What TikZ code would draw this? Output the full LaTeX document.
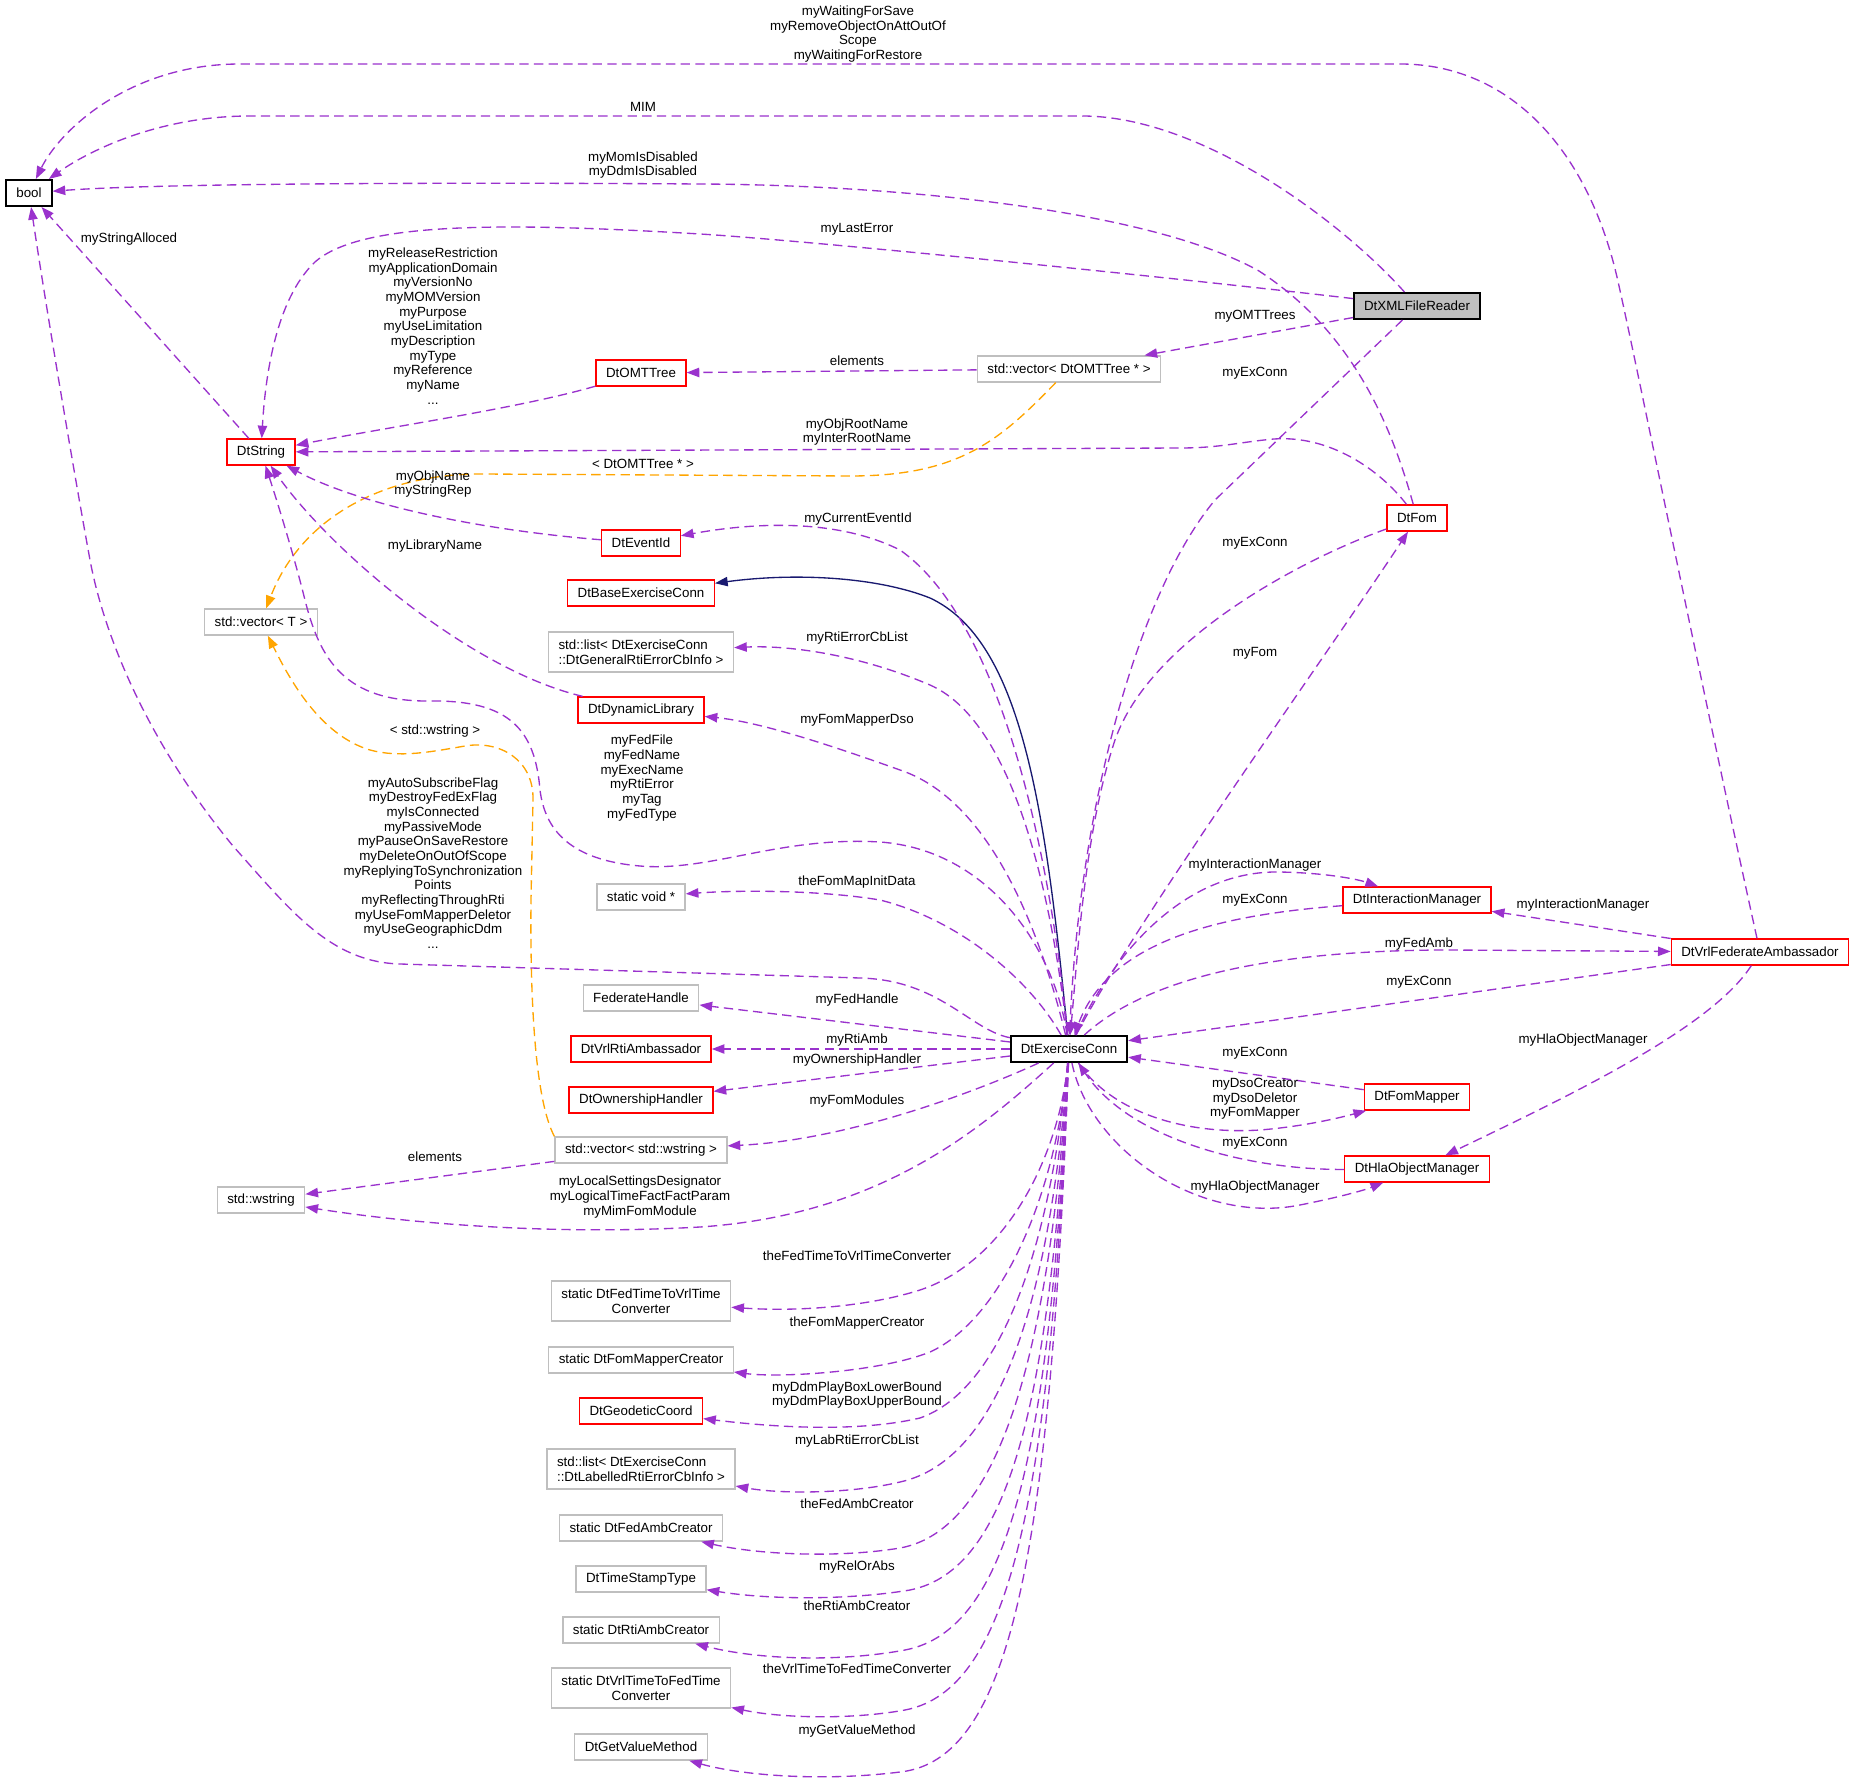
\documentclass[tikz,border=0pt]{standalone}
\usepackage{fontspec}
\setmainfont{Liberation Sans}
\usetikzlibrary{arrows.meta}
\definecolor{edgepurple}{HTML}{9A32CD}
\definecolor{tmplorange}{HTML}{FFA500}
\definecolor{inhnavy}{HTML}{191970}
\definecolor{boxgrey}{HTML}{BFBFBF}
\definecolor{boxred}{HTML}{FF0000}
\begin{document}
\begin{tikzpicture}[x=0.75pt,y=-0.75pt]
		\tikzstyle{cls}=[rectangle,draw,line width=1pt,minimum height=19.5pt,inner xsep=7.5pt,inner ysep=3pt,font=\fontsize{10}{11}\selectfont,align=center]
		\tikzstyle{redcls}=[cls,draw=boxred]
		\tikzstyle{greycls}=[cls,draw=boxgrey]
		\tikzstyle{blkcls}=[cls,draw=black,line width=1.5pt]
		\tikzstyle{lbl}=[font=\fontsize{10}{11}\selectfont,align=center,inner sep=0pt]
		\tikzstyle{member}=[draw=edgepurple,line width=1pt,dash pattern=on 7pt off 4pt,-{Triangle[length=9.5pt,width=7pt]}]
		\tikzstyle{tmplarg}=[member,draw=tmplorange]
		\tikzstyle{inherit}=[draw=inhnavy,line width=1pt,-{Triangle[length=9.5pt,width=7pt]}]
		\path[fill=white,use as bounding box] (0,0) rectangle (1853,1787);
		\node[blkcls] (n_bool) at (29,193) {bool};
		\node[redcls] (n_dtstring) at (261,452) {DtString};
		\node[redcls] (n_omttree) at (641,373) {DtOMTTree};
		\node[redcls] (n_eventid) at (641,543) {DtEventId};
		\node[blkcls,fill=boxgrey] (n_xmlreader) at (1417,306) {DtXMLFileReader};
		\node[greycls] (n_vecomt) at (1069,369) {std::vector< DtOMTTree * >};
		\node[redcls] (n_fom) at (1417,518) {DtFom};
		\node[redcls] (n_baseconn) at (641,593) {DtBaseExerciseConn};
		\node[greycls] (n_vect) at (261,622) {std::vector< T >};
		\node[greycls,align=left,minimum height=30pt] (n_listgen) at (641,652) {std::list< DtExerciseConn\\::DtGeneralRtiErrorCbInfo >};
		\node[redcls] (n_dynlib) at (641,710) {DtDynamicLibrary};
		\node[greycls] (n_staticvoid) at (641,897) {static void *};
		\node[greycls] (n_fedhandle) at (641,998) {FederateHandle};
		\node[redcls] (n_rtiamb) at (641,1049) {DtVrlRtiAmbassador};
		\node[redcls] (n_ownhandler) at (641,1100) {DtOwnershipHandler};
		\node[greycls] (n_vecwstr) at (641,1150) {std::vector< std::wstring >};
		\node[greycls] (n_wstring) at (261,1200) {std::wstring};
		\node[blkcls] (n_exconn) at (1069,1049) {DtExerciseConn};
		\node[redcls] (n_intmgr) at (1417,900) {DtInteractionManager};
		\node[redcls] (n_fedamb) at (1760,952) {DtVrlFederateAmbassador};
		\node[redcls] (n_fommapper) at (1417,1097) {DtFomMapper};
		\node[redcls] (n_hlaobj) at (1417,1169) {DtHlaObjectManager};
		\node[greycls,minimum height=30pt] (n_fedtime) at (641,1301) {static DtFedTimeToVrlTime\\Converter};
		\node[greycls] (n_mapcreator) at (641,1360) {static DtFomMapperCreator};
		\node[redcls] (n_geocoord) at (641,1411) {DtGeodeticCoord};
		\node[greycls,align=left,minimum height=30pt] (n_listlab) at (641,1469) {std::list< DtExerciseConn\\::DtLabelledRtiErrorCbInfo >};
		\node[greycls] (n_ambcreator) at (641,1528) {static DtFedAmbCreator};
		\node[greycls] (n_timestamp) at (641,1579) {DtTimeStampType};
		\node[greycls] (n_rticreator) at (641,1630) {static DtRtiAmbCreator};
		\node[greycls,minimum height=30pt] (n_vrltime) at (641,1688) {static DtVrlTimeToFedTime\\Converter};
		\node[greycls] (n_getvalue) at (641,1747) {DtGetValueMethod};
		\draw[member] (n_fedamb) .. controls (1700,680) and (1640,380) .. (1619,286) .. controls (1590,150) and (1510,64) .. (1400,64) -- (240,64) .. controls (130,64) and (60,130) .. (n_bool);
		\draw[member] (n_xmlreader) .. controls (1340,220) and (1200,116) .. (1082,116) -- (250,116) .. controls (160,116) and (90,150) .. (n_bool);
		\draw[member] (n_fom) .. controls (1390,420) and (1350,330) .. (1259,271) .. controls (1150,210) and (900,185) .. (700,184) .. controls (400,182) and (150,184) .. (n_bool);
		\draw[member] (n_xmlreader) .. controls (1150,275) and (800,240) .. (700,234) .. controls (500,222) and (360,222) .. (315,262) .. controls (275,300) and (265,380) .. (n_dtstring);
		\draw[member] (n_xmlreader) -- (n_vecomt);
		\draw[member] (n_vecomt) -- (n_omttree);
		\draw[member] (n_omttree) .. controls (520,408) and (400,425) .. (n_dtstring);
		\draw[member] (n_fom) .. controls (1380,470) and (1330,435) .. (1274,439) .. controls (1240,442) and (1220,448) .. (1180,448) -- (n_dtstring);
		\draw[tmplarg] (n_vecomt) .. controls (1000,440) and (960,476) .. (850,476) -- (480,474) .. controls (380,474) and (300,520) .. (n_vect);
		\draw[member] (n_eventid) .. controls (480,530) and (360,505) .. (n_dtstring);
		\draw[member] (n_dynlib) .. controls (470,670) and (330,550) .. (n_dtstring);
		\draw[member] (n_exconn) .. controls (1055,950) and (990,850) .. (880,842) .. controls (780,836) and (710,872) .. (640,866) .. controls (570,860) and (545,830) .. (540,790) .. controls (535,730) and (510,700) .. (430,701) .. controls (345,702) and (320,660) .. (305,600) .. controls (295,560) and (280,510) .. (n_dtstring);
		\draw[tmplarg] (n_vecwstr.north west) .. controls (535,1100) and (530,1000) .. (531,900) -- (533,800) .. controls (534,760) and (500,740) .. (465,746) .. controls (430,752) and (400,758) .. (370,750) .. controls (320,735) and (290,680) .. (n_vect);
		\draw[member] (n_vecwstr) -- (n_wstring);
		\draw[member] (n_exconn) .. controls (980,1130) and (880,1215) .. (700,1227) .. controls (560,1235) and (420,1225) .. (n_wstring);
		\draw[member] (n_exconn) .. controls (970,1030) and (940,980) .. (860,978) -- (400,964) .. controls (330,962) and (290,910) .. (233,846) .. controls (150,745) and (105,640) .. (90,560) .. controls (70,450) and (45,300) .. (n_bool);
		\draw[inherit] (n_exconn) .. controls (1045,800) and (1020,640) .. (930,598) .. controls (880,578) and (800,572) .. (n_baseconn);
		\draw[member] (n_exconn) .. controls (1050,850) and (1000,620) .. (900,550) .. controls (830,515) and (740,525) .. (n_eventid);
		\draw[member] (n_exconn) .. controls (1050,880) and (1010,720) .. (930,685) .. controls (860,655) and (790,645) .. (n_listgen);
		\draw[member] (n_exconn) .. controls (1040,930) and (990,800) .. (900,770) .. controls (830,745) and (760,722) .. (n_dynlib);
		\draw[member] (n_exconn) .. controls (1030,980) and (960,920) .. (880,900) .. controls (820,890) and (740,890) .. (n_staticvoid);
		\draw[member] (n_exconn) -- (n_fedhandle);
		\draw[member] (n_exconn) -- (n_rtiamb);
		\draw[member] (n_exconn) -- (n_ownhandler);
		\draw[member] (n_exconn) .. controls (980,1090) and (850,1140) .. (n_vecwstr);
		\draw[member] (n_xmlreader) -- (1215,500) .. controls (1140,590) and (1080,800) .. (n_exconn);
		\draw[member] (n_fom) .. controls (1300,560) and (1150,640) .. (1115,740) .. controls (1085,830) and (1078,950) .. (n_exconn);
		\draw[member] (n_exconn) .. controls (1130,930) and (1330,650) .. (n_fom);
		\draw[member] (n_exconn) .. controls (1110,960) and (1180,870) .. (1280,872) .. controls (1330,873) and (1360,880) .. (n_intmgr);
		\draw[member] (n_intmgr) .. controls (1220,915) and (1110,940) .. (n_exconn);
		\draw[member] (n_fedamb) -- (n_intmgr);
		\draw[member] (n_exconn) .. controls (1150,975) and (1280,950) .. (1450,950) -- (n_fedamb);
		\draw[member] (n_fedamb) -- (n_exconn);
		\draw[member] (n_fedamb) .. controls (1710,1030) and (1560,1100) .. (n_hlaobj);
		\draw[member] (n_fommapper) -- (n_exconn);
		\draw[member] (n_exconn) .. controls (1110,1110) and (1180,1135) .. (1260,1130) .. controls (1310,1126) and (1350,1115) .. (n_fommapper);
		\draw[member] (n_hlaobj) .. controls (1250,1170) and (1130,1140) .. (n_exconn);
		\draw[member] (n_exconn) .. controls (1090,1150) and (1200,1225) .. (1300,1205) .. controls (1340,1197) and (1365,1190) .. (n_hlaobj);
		\draw[member] (n_exconn) .. controls (1060,1150) and (1010,1260) .. (920,1290) .. controls (870,1306) and (800,1312) .. (n_fedtime);
		\draw[member] (n_exconn) .. controls (1055,1200) and (1000,1320) .. (930,1352) .. controls (880,1372) and (780,1378) .. (n_mapcreator);
		\draw[member] (n_exconn) .. controls (1050,1250) and (1000,1390) .. (920,1418) .. controls (860,1432) and (780,1428) .. (n_geocoord);
		\draw[member] (n_exconn) .. controls (1050,1300) and (1000,1460) .. (900,1482) .. controls (850,1494) and (780,1494) .. (n_listlab);
		\draw[member] (n_exconn) .. controls (1050,1350) and (1000,1530) .. (900,1548) .. controls (840,1558) and (760,1555) .. (n_ambcreator);
		\draw[member] (n_exconn) .. controls (1050,1400) and (1010,1570) .. (910,1590) .. controls (850,1600) and (770,1600) .. (n_timestamp);
		\draw[member] (n_exconn) .. controls (1050,1450) and (1010,1630) .. (905,1650) .. controls (840,1662) and (760,1660) .. (n_rticreator);
		\draw[member] (n_exconn) .. controls (1050,1500) and (1010,1690) .. (905,1710) .. controls (850,1720) and (780,1718) .. (n_vrltime);
		\draw[member] (n_exconn) .. controls (1050,1560) and (1010,1760) .. (900,1772) .. controls (820,1782) and (740,1775) .. (n_getvalue);
		\draw[member] (n_dtstring) -- (n_bool);
		\node[lbl] (l_waiting) at (858,34) {myWaitingForSave\\myRemoveObjectOnAttOutOf\\Scope\\myWaitingForRestore};
		\node[lbl] (l_mim) at (643,107) {MIM};
		\node[lbl] (l_momdis) at (643,165) {myMomIsDisabled\\myDdmIsDisabled};
		\node[lbl] (l_lasterr) at (857,229) {myLastError};
		\node[lbl] (l_stralloc) at (129,239) {myStringAlloced};
		\node[lbl] (l_release) at (433,326) {myReleaseRestriction\\myApplicationDomain\\myVersionNo\\myMOMVersion\\myPurpose\\myUseLimitation\\myDescription\\myType\\myReference\\myName\\...};
		\node[lbl] (l_omttrees) at (1255,316) {myOMTTrees};
		\node[lbl] (l_elem1) at (857,361) {elements};
		\node[lbl] (l_exconn1) at (1255,373) {myExConn};
		\node[lbl] (l_objroot) at (857,432) {myObjRootName\\myInterRootName};
		\node[lbl] (l_omtarg) at (643,464) {< DtOMTTree * >};
		\node[lbl] (l_objname) at (433,484) {myObjName\\myStringRep};
		\node[lbl] (l_curevent) at (858,519) {myCurrentEventId};
		\node[lbl] (l_exconn2) at (1255,543) {myExConn};
		\node[lbl] (l_libname) at (435,546) {myLibraryName};
		\node[lbl] (l_rtierr) at (857,638) {myRtiErrorCbList};
		\node[lbl] (l_fom) at (1255,653) {myFom};
		\node[lbl] (l_mapdso) at (857,720) {myFomMapperDso};
		\node[lbl] (l_wstrarg) at (435,731) {< std::wstring >};
		\node[lbl] (l_fedfile) at (642,778) {myFedFile\\myFedName\\myExecName\\myRtiError\\myTag\\myFedType};
		\node[lbl] (l_autosub) at (433,863) {myAutoSubscribeFlag\\myDestroyFedExFlag\\myIsConnected\\myPassiveMode\\myPauseOnSaveRestore\\myDeleteOnOutOfScope\\myReplyingToSynchronization\\Points\\myReflectingThroughRti\\myUseFomMapperDeletor\\myUseGeographicDdm\\...};
		\node[lbl] (l_intmgr1) at (1255,865) {myInteractionManager};
		\node[lbl] (l_mapinit) at (857,882) {theFomMapInitData};
		\node[lbl] (l_exconn3) at (1255,900) {myExConn};
		\node[lbl] (l_intmgr2) at (1583,905) {myInteractionManager};
		\node[lbl] (l_fedamb) at (1419,944) {myFedAmb};
		\node[lbl] (l_exconn4) at (1419,982) {myExConn};
		\node[lbl] (l_fedhandle) at (857,1000) {myFedHandle};
		\node[lbl] (l_rtiamb) at (857,1040) {myRtiAmb};
		\node[lbl] (l_hlaobj1) at (1583,1040) {myHlaObjectManager};
		\node[lbl] (l_exconn5) at (1255,1053) {myExConn};
		\node[lbl] (l_ownhandler) at (857,1060) {myOwnershipHandler};
		\node[lbl] (l_dsocreator) at (1255,1099) {myDsoCreator\\myDsoDeletor\\myFomMapper};
		\node[lbl] (l_fommodules) at (857,1101) {myFomModules};
		\node[lbl] (l_exconn6) at (1255,1143) {myExConn};
		\node[lbl] (l_elem2) at (435,1157) {elements};
		\node[lbl] (l_localset) at (640,1197) {myLocalSettingsDesignator\\myLogicalTimeFactFactParam\\myMimFomModule};
		\node[lbl] (l_hlaobj2) at (1255,1187) {myHlaObjectManager};
		\node[lbl] (l_fedtime) at (857,1256) {theFedTimeToVrlTimeConverter};
		\node[lbl] (l_mapcreator) at (857,1323) {theFomMapperCreator};
		\node[lbl] (l_ddmbox) at (857,1395) {myDdmPlayBoxLowerBound\\myDdmPlayBoxUpperBound};
		\node[lbl] (l_labrti) at (857,1441) {myLabRtiErrorCbList};
		\node[lbl] (l_ambcreator) at (857,1504) {theFedAmbCreator};
		\node[lbl] (l_relorabs) at (857,1567) {myRelOrAbs};
		\node[lbl] (l_rticreator) at (857,1606) {theRtiAmbCreator};
		\node[lbl] (l_vrltime) at (857,1669) {theVrlTimeToFedTimeConverter};
		\node[lbl] (l_getvalue) at (857,1731) {myGetValueMethod};
	\end{tikzpicture}
\end{document}
